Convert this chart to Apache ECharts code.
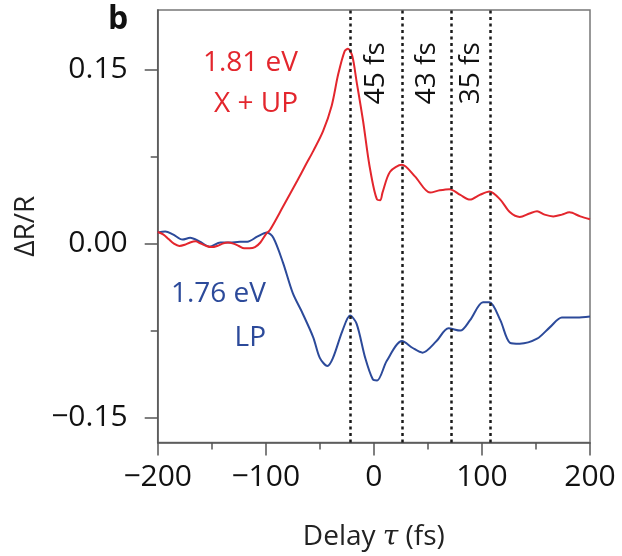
<!DOCTYPE html>
<html>
<head>
<meta charset="utf-8">
<script src="https://cdn.jsdelivr.net/npm/echarts@6/dist/echarts.min.js"></script>
<style>
html,body{margin:0;padding:0;background:#fff;}
#c{width:622px;height:556px;}
</style>
</head>
<body>
<div id="c"></div>
<script>
// ---- data ----
const redDelay = [-200,-195,-190,-185,-180,-175,-170,-165,-160,-155,-150,-145,-140,-135,-130,-125,-120,-115,-110,-105,-100,-96,-84,-71,-63,-56,-47,-39,-33,-27,-24,-20,-16,-10,-4,3,6,8,15,26,38,52,61,70,80,89,98,107,117,126,135,144,151,158,166,174,181,191,200];
const redValues = [0.010,0.008,0.004,0.000,-0.002,-0.001,0.001,0.002,0.000,-0.002,-0.003,-0.002,0.000,0.001,0.000,-0.002,-0.004,-0.004,-0.003,0.001,0.008,0.012,0.032,0.054,0.068,0.080,0.097,0.119,0.146,0.166,0.168,0.162,0.140,0.106,0.067,0.038,0.0375,0.044,0.062,0.068,0.058,0.044,0.046,0.047,0.042,0.038,0.042,0.045,0.038,0.027,0.023,0.026,0.028,0.025,0.0235,0.025,0.027,0.0235,0.021];
const blueDelay = [-200,-193,-186,-177,-170,-161,-152,-142,-133,-124,-117,-108,-99,-93,-84,-75,-66,-56,-50,-43,-38,-29,-22,-16,-8,-1,3,12,26,36,45,58,69,80,89,101,107,117,126,135,151,163,174,188,200];
const blueValues = [0.0096,0.0105,0.008,0.0035,0.005,0.0017,-0.0026,0.0009,0.0009,0.0017,0.0017,0.006,0.0096,0.005,-0.0166,-0.0427,-0.060,-0.081,-0.0985,-0.1055,-0.099,-0.075,-0.062,-0.069,-0.0985,-0.117,-0.118,-0.101,-0.084,-0.090,-0.094,-0.084,-0.073,-0.075,-0.066,-0.0506,-0.0506,-0.066,-0.0855,-0.0863,-0.082,-0.072,-0.0637,-0.0637,-0.0628];
const markerDelays = [-22, 26, 72, 108];
const periodLabels = ['45 fs', '43 fs', '35 fs'];
const xTickLabels = [-200, -100, 0, 100, 200];
const yTickLabels = [-0.15, 0, 0.15];
const yMinorTicks = [-0.075, 0.075];

const FONT = '"Open Sans", "Noto Sans", sans-serif';
const chart = echarts.init(document.getElementById('c'), null, {renderer: 'canvas'});
const zip = (a, b) => a.map((v, i) => [v, b[i]]);
const fmtNum = (v, d) => {
  const s = Math.abs(v).toFixed(d);
  return v < 0 ? '\u2212' + s : s;
};

const option = {
  animation: false,
  backgroundColor: '#fff',
  grid: {left: 157.7, right: 32, top: 10, bottom: 113.5, containLabel: false, outerBoundsMode: 'none',
         show: true, borderColor: '#777', borderWidth: 1.5, backgroundColor: 'transparent'},
  xAxis: [
    {
      type: 'value', min: -200, max: 200, interval: 100,
      axisLine: {show: true, onZero: false, lineStyle: {color: '#555', width: 1.5}},
      axisTick: {show: true, inside: false, length: 13, customValues: xTickLabels, lineStyle: {color: '#555', width: 1.5}},
      splitLine: {show: false},
      axisLabel: {margin: 20, fontFamily: FONT, fontSize: 30, color: '#111', customValues: xTickLabels, formatter: v => fmtNum(v, 0)},
      name: '{a|Delay }{b|\u03c4}{a| (fs)}',
      nameLocation: 'middle', nameGap: 81,
      nameTextStyle: {rich: {
        a: {fontFamily: FONT, fontSize: 28, color: '#222'},
        b: {fontFamily: '"DejaVu Serif", serif', fontStyle: 'italic', fontSize: 28, color: '#222'}
      }}
    },
    {
      type: 'value', min: -200, max: 200, interval: 50, position: 'bottom',
      axisLine: {show: false, onZero: false},
      axisTick: {show: true, length: 7, lineStyle: {color: '#555', width: 1.5}},
      axisLabel: {show: false}, splitLine: {show: false}
    }
  ],
  yAxis: [
    {
      type: 'value', min: -0.1715, max: 0.2015,
      axisLine: {show: true, onZero: false, lineStyle: {color: '#555', width: 1.5}},
      axisTick: {show: true, length: 13, customValues: yTickLabels, lineStyle: {color: '#555', width: 1.5}},
      splitLine: {show: false},
      axisLabel: {margin: 30, fontFamily: FONT, fontSize: 30, color: '#111', customValues: yTickLabels, formatter: v => fmtNum(v, 2)},
      name: '\u0394R/R', nameLocation: 'middle', nameGap: 116, nameRotate: 90,
      nameTextStyle: {fontFamily: FONT, fontSize: 28, color: '#222'}
    },
    {
      type: 'value', min: -0.1715, max: 0.2015, position: 'left',
      axisLine: {show: false, onZero: false},
      axisTick: {show: true, length: 7, customValues: yMinorTicks, lineStyle: {color: '#555', width: 1.5}},
      axisLabel: {show: false}, splitLine: {show: false}
    }
  ],
  series: [
    {
      type: 'line', name: '1.81 eV', data: zip(redDelay, redValues), smooth: 0.3,
      showSymbol: false, lineStyle: {color: '#e3262d', width: 2}, z: 3,
      markLine: {
        silent: true, symbol: ['none', 'none'], label: {show: false},
        lineStyle: {color: '#1a1a1a', type: [3, 3.5], width: 2.5},
        data: markerDelays.map(d => ({xAxis: d}))
      }
    },
    {
      type: 'line', name: '1.76 eV', data: zip(blueDelay, blueValues), smooth: 0.3,
      showSymbol: false, lineStyle: {color: '#2c4a9a', width: 2}, z: 2
    }
  ]
};
chart.setOption(option);

// labels placed through the library's scales
const graphics = [];
for (let i = 0; i < periodLabels.length; i++) {
  const mid = (markerDelays[i] + markerDelays[i + 1]) / 2;
  const p = chart.convertToPixel({gridIndex: 0}, [mid, 0.147]);
  graphics.push({
    type: 'text', x: p[0], y: p[1], rotation: Math.PI / 2,
    style: {text: periodLabels[i], fontFamily: FONT, fontSize: 28, fill: '#111', align: 'center', verticalAlign: 'middle'}
  });
}
graphics.push(
  {type: 'text', left: 108, top: 4, style: {text: 'b', fontFamily: FONT, fontSize: 32, fontWeight: 'bold', fill: '#111'}},
  {type: 'text', x: 298, y: 63, style: {text: '1.81 eV', fontFamily: FONT, fontSize: 28, fill: '#e3262d', align: 'right', verticalAlign: 'middle'}},
  {type: 'text', x: 298, y: 104, style: {text: 'X + UP', fontFamily: FONT, fontSize: 28, fill: '#e3262d', align: 'right', verticalAlign: 'middle'}},
  {type: 'text', x: 266, y: 294, style: {text: '1.76 eV', fontFamily: FONT, fontSize: 28, fill: '#2c4a9a', align: 'right', verticalAlign: 'middle'}},
  {type: 'text', x: 266, y: 338, style: {text: 'LP', fontFamily: FONT, fontSize: 28, fill: '#2c4a9a', align: 'right', verticalAlign: 'middle'}}
);
chart.setOption({graphic: graphics});
</script>
</body>
</html>
